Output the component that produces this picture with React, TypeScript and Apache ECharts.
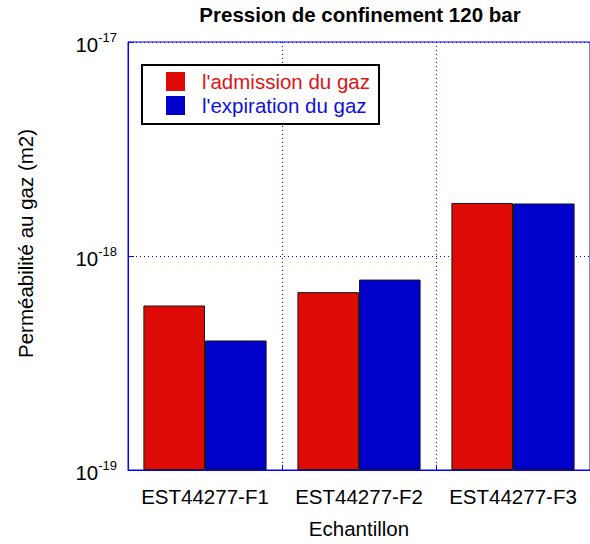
import React, { useEffect, useRef } from 'react';
import * as echarts from 'echarts';

const categories = ['EST44277-F1', 'EST44277-F2', 'EST44277-F3'];
const seriesNames = ["l'admission du gaz", "l'expiration du gaz"];
const admission = [5.87e-19, 6.78e-19, 1.77e-18];
const expiration = [4.03e-19, 7.76e-19, 1.76e-18];
const yMin = 1e-19;
const yMax = 1e-17;
const titleText = 'Pression de confinement 120 bar';
const xName = 'Echantillon';
const yName = 'Perméabilité au gaz (m2)';

const FONT = "Arial, 'Liberation Sans', Helvetica, sans-serif";
const FS = 20.5;
const AXIS_BLUE = '#0000ff';

export default function App() {
  const ref = useRef<HTMLDivElement>(null);
  useEffect(() => {
    if (!ref.current) return;
    const chart = echarts.init(ref.current, null, { renderer: 'svg' });
    chart.setOption({
      animation: false,
      title: {
        text: titleText,
        left: 360,
        top: 4,
        textAlign: 'center',
        padding: 0,
        textStyle: { fontFamily: FONT, fontSize: FS, fontWeight: 'bold', color: '#000' },
      },
      grid: {
        left: 128,
        right: -7,
        top: 42,
        bottom: 72,
        show: true,
        borderColor: AXIS_BLUE,
        borderWidth: 1,
        backgroundColor: 'transparent',
      },
      legend: {
        orient: 'vertical',
        left: 142,
        top: 65,
        padding: [6, 9, 8, 24],
        itemWidth: 19,
        itemHeight: 19,
        itemGap: 3,
        borderColor: '#000',
        borderWidth: 2,
        backgroundColor: '#fff',
        icon: 'rect',
        itemStyle: { borderWidth: 0 },
        textStyle: { fontFamily: FONT, fontSize: FS, lineHeight: 20, padding: [0, 0, 0, 12] },
        data: [
          { name: seriesNames[0], textStyle: { color: '#e01414' } },
          { name: seriesNames[1], textStyle: { color: '#1010dd' } },
        ],
      },
      graphic: [
        {
          type: 'text',
          x: 25,
          y: 243.5,
          rotation: Math.PI / 2,
          style: {
            text: yName,
            fontFamily: FONT,
            fontSize: FS,
            fill: '#000',
            align: 'center',
            verticalAlign: 'middle',
          },
        },
      ],
      xAxis: {
        type: 'category',
        data: categories,
        boundaryGap: true,
        axisLine: { lineStyle: { color: AXIS_BLUE, width: 1 } },
        axisTick: { show: true, inside: true, length: 5, interval: 0, lineStyle: { color: AXIS_BLUE } },
        axisLabel: { interval: 0, margin: 16, fontSize: FS, color: '#000', fontFamily: FONT },
        splitLine: { show: true, interval: 0, lineStyle: { color: AXIS_BLUE, type: [1, 3], width: 1 } },
        name: xName,
        nameLocation: 'middle',
        nameGap: 48,
        nameTextStyle: { fontSize: FS, color: '#000', fontFamily: FONT },
      },
      yAxis: {
        type: 'log',
        logBase: 10,
        min: yMin,
        max: yMax,
        startValue: yMin,
        axisLine: { show: true, lineStyle: { color: AXIS_BLUE, width: 1 } },
        axisTick: { show: true, inside: true, length: 6, lineStyle: { color: AXIS_BLUE } },
        minorTick: { show: false },
        splitLine: { show: true, lineStyle: { color: AXIS_BLUE, type: [1, 3], width: 1 } },
        axisLabel: {
          margin: 11,
          color: '#000',
          fontFamily: FONT,
          formatter: (v: number) => `{b|10}{s|${Math.round(Math.log10(v))}}`,
          rich: {
            b: { fontSize: FS, fontFamily: FONT, color: '#000', padding: [4, 0, 0, 0] },
            s: { fontSize: 13, fontFamily: FONT, color: '#000', padding: [0, 0, 10, 0] },
          },
        },
      },
      series: [
        {
          name: seriesNames[0],
          type: 'bar',
          data: admission,
          barWidth: '40%',
          barGap: '0%',
          clip: true,
          itemStyle: { color: '#dd0a05', borderColor: '#1a1a1a', borderWidth: 1 },
        },
        {
          name: seriesNames[1],
          type: 'bar',
          data: expiration,
          barWidth: '40%',
          barGap: '0%',
          clip: true,
          itemStyle: { color: '#0000cd', borderColor: '#1a1a1a', borderWidth: 1 },
        },
      ],
    });
    return () => chart.dispose();
  }, []);
  return <div ref={ref} style={{ width: 590, height: 544, position: 'absolute', left: 0, top: 0 }} />;
}
